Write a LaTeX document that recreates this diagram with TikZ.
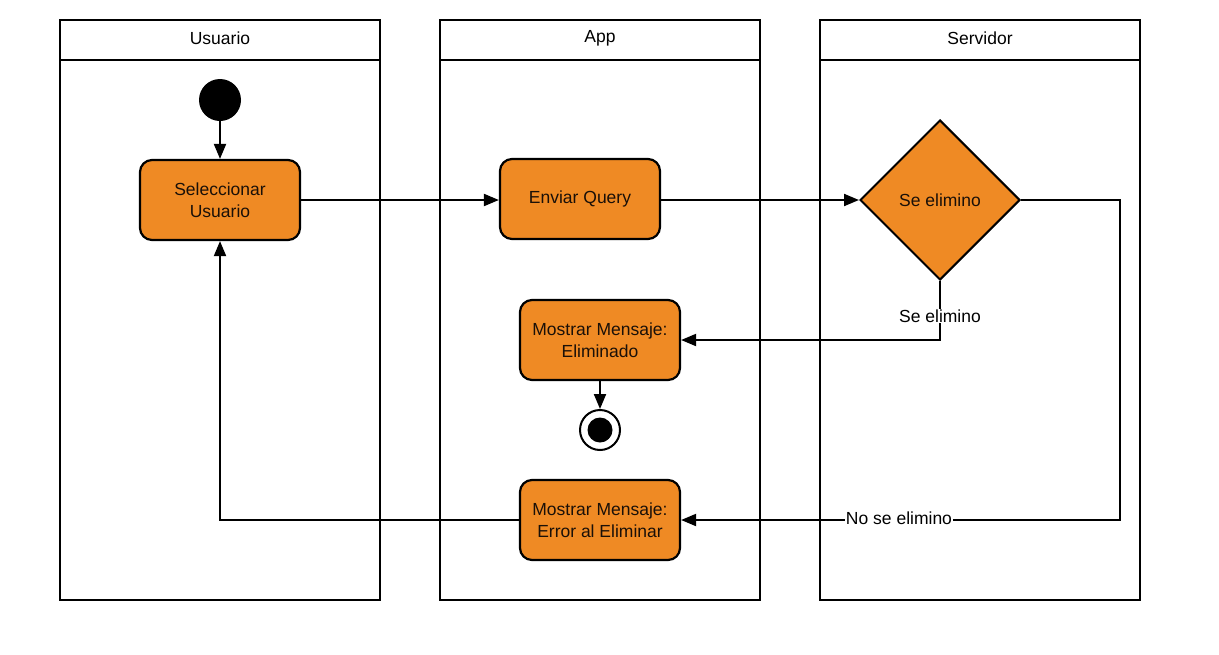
\documentclass[tikz,border=0pt]{standalone}
\usepackage{fontspec}
\setmainfont{Liberation Sans}
\usetikzlibrary{shapes.geometric,arrows.meta}
\definecolor{boxorange}{HTML}{EF8A24}
\definecolor{txtdark}{HTML}{1A1008}
\tikzset{
  lane/.style={draw=black, line width=1.8pt},
  act/.style={draw=black, line width=2.2pt, fill=boxorange, rounded corners=12pt,
    minimum width=160pt, minimum height=80pt, align=center, text=txtdark,
    font=\fontsize{17.5}{22}\selectfont, inner sep=0pt},
  dec/.style={draw=black, line width=2pt, fill=boxorange, diamond, aspect=1,
    minimum width=160pt, minimum height=160pt, inner sep=0pt, text=txtdark,
    font=\fontsize{17.5}{22}\selectfont},
  flow/.style={draw=black, line width=2pt, -{Triangle[length=15pt,width=12pt]}},
  lbl/.style={fill=white, inner sep=1pt, font=\fontsize{17.5}{22}\selectfont},
  hdr/.style={font=\fontsize{17.5}{22}\selectfont},
}
\begin{document}
\begin{tikzpicture}[x=1pt,y=-1pt]
\useasboundingbox (0,0) rectangle (1219,654);
% lanes
\foreach \xa/\name in {60/Usuario,440/App,820/Servidor}{
  \draw[lane] (\xa,20) rectangle (\xa+320,600);
  \draw[lane] (\xa,60) -- (\xa+320,60);
  \node[hdr] (h\name) at (\xa+160,38) {\name};
}
% nodes
\node[circle, fill=black, minimum size=42pt, inner sep=0pt] (start) at (220,100) {};
\node[act] (sel) at (220,200) {Seleccionar\\Usuario};
\node[act] (env) at (580,199) {Enviar Query};
\node[dec] (dec) at (940,200) {Se elimino};
\node[act] (ok) at (600,340) {Mostrar Mensaje:\\Eliminado};
\node[act] (err) at (600,520) {Mostrar Mensaje:\\Error al Eliminar};
\node[circle, draw=black, line width=2pt, fill=white, minimum size=40pt, inner sep=0pt] (end) at (600,430) {};
\fill[black] (end.center) circle (12.5pt);
\coordinate (c1) at (940,340);
\coordinate (c2) at (1120,200);
\coordinate (c3) at (1120,520);
\coordinate (c4) at (220,520);
% edges
\draw[flow] (start) -- (sel);
\draw[flow] (sel) -- (env.west |- sel);
\draw[flow] (env.east |- sel) -- (dec);
\draw[flow] (dec.south) -- (c1) -- (ok.east);
\draw[flow] (dec.east) -- (c2) -- (c3) -- (err.east);
\draw[flow] (err.west) -- (c4) -- (sel.south);
\draw[flow] (ok) -- (end);
\node[lbl] (l1) at (940,316) {Se elimino};
\node[lbl] (l2) at (899,518) {No se elimino};
\end{tikzpicture}
\end{document}
